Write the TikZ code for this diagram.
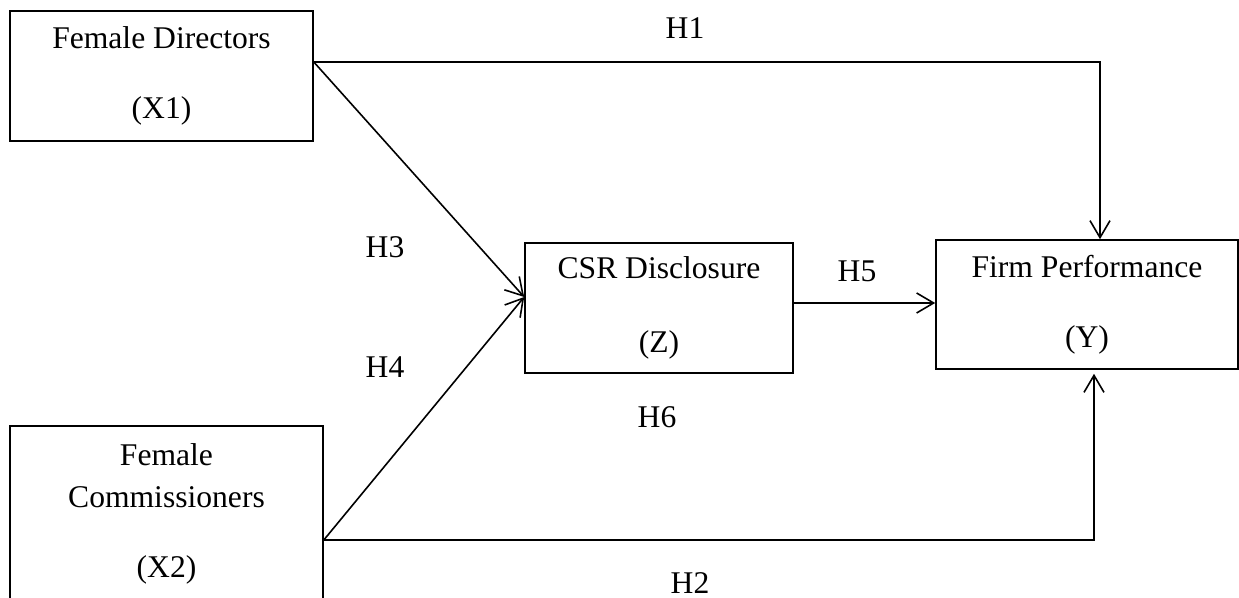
\documentclass[tikz,border=0pt]{standalone}
\usepackage{fontspec}
\setmainfont{Liberation Serif}
\usetikzlibrary{arrows.meta}

\begin{document}
\begin{tikzpicture}[x=0.5pt,y=-0.5pt,
    box/.style={draw,line width=0.8pt,align=center,inner sep=0pt,
        font=\fontsize{15.8}{21}\selectfont},
    hyp/.style={font=\fontsize{15.8}{21}\selectfont},
    arr/.style={line width=0.8pt,-{Straight Barb[length=8.5pt,width=10pt,line width=0.8pt]}}]
    \useasboundingbox (0,0) rectangle (1239,598);

    % Boxes
    \node[box,minimum width=151.5pt,minimum height=65pt] (X1) at (161.5,76)
        {Female Directors\\[14pt](X1)};
    \node[box,minimum width=156.5pt,minimum height=88pt] (X2) at (166.5,514)
        {Female\\Commissioners\\[14pt](X2)};
    \node[box,minimum width=134pt,minimum height=65pt] (Z) at (659,308)
        {CSR Disclosure\\[16pt](Z)};
    \node[box,minimum width=151pt,minimum height=64.5pt] (Y) at (1087,304.5)
        {Firm Performance\\[14pt](Y)};

    % Connection points
    \coordinate (x1out) at ([yshift=7pt]X1.east);
    \coordinate (x2out) at ([yshift=-13pt]X2.east);
    \coordinate (zin) at ([yshift=5.5pt]Z.west);
    \coordinate (zout) at ([yshift=2.5pt]Z.east);

    % Paths
    \draw[arr] (x1out) -| ([xshift=6.5pt]Y.north);
    \draw[arr] (x2out) -| ([xshift=3.5pt,yshift=-2pt]Y.south);
    \draw[arr] (x1out) -- (zin);
    \draw[arr] (x2out) -- (zin);
    \draw[arr] (zout) -- (zout -| Y.west);

    % Hypothesis labels
    \node[hyp] (h1) at (685,28) {H1};
    \node[hyp] (h2) at (690,583) {H2};
    \node[hyp] (h3) at (385,247) {H3};
    \node[hyp] (h4) at (385,367) {H4};
    \node[hyp] (h5) at (857,271) {H5};
    \node[hyp] (h6) at (657,417) {H6};
\end{tikzpicture}
\end{document}
